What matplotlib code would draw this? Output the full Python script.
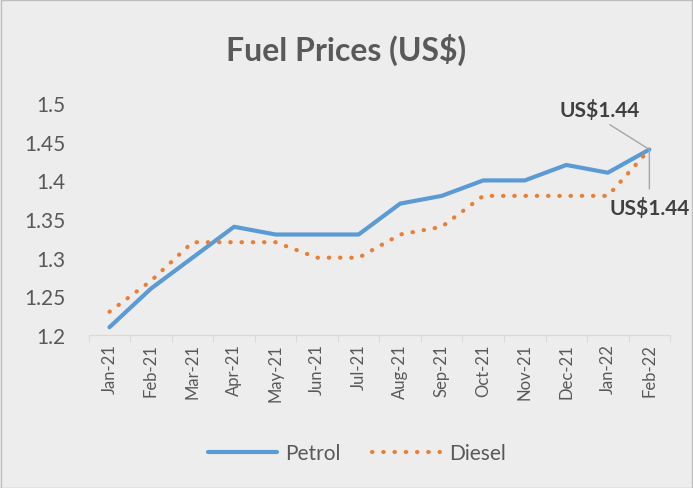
import matplotlib.pyplot as plt
import numpy as np

months = ['Jan-21', 'Feb-21', 'Mar-21', 'Apr-21', 'May-21', 'Jun-21', 'Jul-21',
          'Aug-21', 'Sep-21', 'Oct-21', 'Nov-21', 'Dec-21', 'Jan-22', 'Feb-22']
petrol = [1.21, 1.26, 1.30, 1.34, 1.33, 1.33, 1.33, 1.37, 1.38, 1.40, 1.40, 1.42, 1.41, 1.44]
diesel = [1.23, 1.27, 1.32, 1.32, 1.32, 1.30, 1.30, 1.33, 1.34, 1.38, 1.38, 1.38, 1.38, 1.44]
yticks = [1.2, 1.25, 1.3, 1.35, 1.4, 1.45, 1.5]

plt.rcParams['font.family'] = ['Lato', 'DejaVu Sans']
bg = '#EDEDED'
txt = '#595959'

fig = plt.figure(figsize=(6.93, 4.89), dpi=100, facecolor=bg)
ax = fig.add_axes([0.128, 0.313, 0.839, 0.474], facecolor=bg)

x = np.arange(len(months))
ax.plot(x, petrol, color='#5B9BD5', linewidth=3, solid_capstyle='round', label='Petrol')
ax.plot(x, diesel, color='#ED7D31', linewidth=3, linestyle=(0, (0.1, 2.6)),
        dash_capstyle='round', label='Diesel')

ax.set_xlim(-0.5, len(months) - 0.5)
ax.set_ylim(1.2, 1.5)
ax.set_yticks(yticks)
ax.set_yticklabels([f'{v:g}' for v in yticks], fontsize=15, color=txt)
ax.tick_params(axis='y', length=0, pad=17)

ax.set_xticks(np.arange(-0.5, len(months)), minor=False)
ax.set_xticklabels([])
ax.tick_params(axis='x', which='major', length=5, color='#D9D9D9')
ax.set_xticks(x, minor=True)
ax.set_xticklabels(months, minor=True, rotation=90, fontsize=12, color=txt)
ax.tick_params(axis='x', which='minor', length=0, pad=6)

for s in ['top', 'right', 'left']:
    ax.spines[s].set_visible(False)
ax.spines['bottom'].set_color('#D9D9D9')

last = len(months) - 1
ax.annotate(f'US${petrol[-1]:.2f}', xy=(last, petrol[-1]), xytext=(-7, 29),
            textcoords='offset points', ha='right', va='center', fontsize=15,
            fontweight='bold', color='#404040',
            arrowprops=dict(arrowstyle='-', color='#A6A6A6', lw=1,
                            relpos=(0.53, 0.0), shrinkA=3, shrinkB=0))
ax.annotate(f'US${diesel[-1]:.2f}', xy=(last, diesel[-1]), xytext=(0, -42),
            textcoords='offset points', ha='center', va='center', fontsize=15,
            fontweight='bold', color='#404040',
            arrowprops=dict(arrowstyle='-', color='#A6A6A6', lw=1,
                            relpos=(0.5, 1.0), shrinkA=4, shrinkB=0))

fig.text(0.5, 0.898, 'Fuel Prices (US$)', ha='center', va='center',
         fontsize=23, fontweight='bold', color=txt)

fig.legend(loc='center', bbox_to_anchor=(0.515, 0.072), ncol=2, frameon=False,
           fontsize=15, labelcolor=txt, handlelength=3.3, handletextpad=0.4,
           columnspacing=1.5)

fig.patches.append(plt.Rectangle((0.001, 0.001), 0.997, 0.997, transform=fig.transFigure,
                                 fill=False, edgecolor='#BFBFBF', linewidth=1))

fig.savefig('out.png', dpi=100, facecolor=bg)
